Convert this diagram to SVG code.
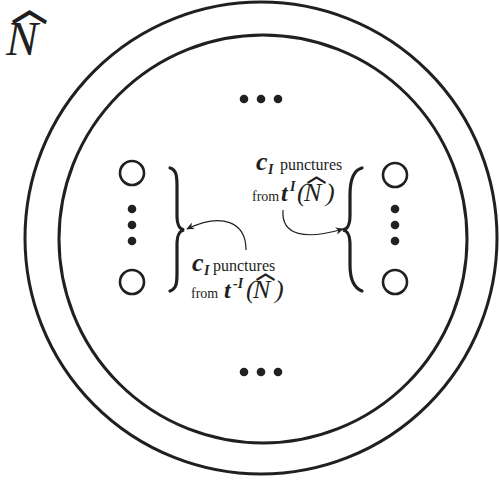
<svg xmlns="http://www.w3.org/2000/svg" width="499" height="484" viewBox="0 0 499 484">
<defs>
<style>
.ring{fill:none;stroke:#231f20;stroke-width:3}
.hole{fill:none;stroke:#231f20;stroke-width:2.6}
.dot{fill:#231f20}
.brace{fill:none;stroke:#231f20;stroke-width:3.2;stroke-linecap:round}
.arr{fill:none;stroke:#231f20;stroke-width:1.2}
.lbl{font-family:"Liberation Serif",serif;fill:#231f20}
.rm{font-style:normal;font-weight:normal}
.bi{font-style:italic;font-weight:bold}
.it{font-style:italic;font-weight:normal}
.hat{font-family:"Noto Sans CJK SC","Noto Sans CJK JP",sans-serif;font-style:normal;font-weight:bold}
</style>
<marker id="ah" viewBox="0 0 10 10" refX="9" refY="5" markerWidth="8" markerHeight="8" orient="auto" markerUnits="userSpaceOnUse">
<path d="M0,0.5 L10,5 L0,9.5 L3,5 Z" fill="#231f20"/>
</marker>
</defs>
<g id="surface">
<circle class="ring" cx="261" cy="238" r="236"/>
<circle class="ring" cx="263" cy="239" r="204"/>
</g>
<g id="label-N">
<text class="lbl"><tspan class="it" x="6" y="55" font-size="48">N</tspan><tspan class="hat" x="11" y="22" font-size="37">︿</tspan></text>
</g>
<g id="top-dots">
<circle class="dot" cx="244" cy="99" r="4.3"/>
<circle class="dot" cx="261" cy="99" r="4.3"/>
<circle class="dot" cx="278" cy="99" r="4.3"/>
</g>
<g id="bottom-dots">
<circle class="dot" cx="244" cy="372" r="4.3"/>
<circle class="dot" cx="261" cy="372" r="4.3"/>
<circle class="dot" cx="278" cy="372" r="4.3"/>
</g>
<g id="left-punctures">
<circle class="hole" cx="132" cy="173" r="12"/>
<circle class="dot" cx="132" cy="209" r="4.3"/>
<circle class="dot" cx="132" cy="225" r="4.3"/>
<circle class="dot" cx="132" cy="241" r="4.3"/>
<circle class="hole" cx="132" cy="282" r="12"/>
<path class="brace" d="M170,168 C178,170 177,180 177,195 L177,215 C177,225 179,229 184,230 C179,231 177,235 177,245 L177,265 C177,280 178,288 170,291"/>
</g>
<g id="right-punctures">
<circle class="hole" cx="395" cy="175" r="12"/>
<circle class="dot" cx="395" cy="209" r="4.3"/>
<circle class="dot" cx="395" cy="225" r="4.3"/>
<circle class="dot" cx="395" cy="241" r="4.3"/>
<circle class="hole" cx="395" cy="282" r="12"/>
<path class="brace" d="M362,168 C354,170 350,180 350,195 L350,215 C350,225 348,229 343,230 C348,231 350,235 350,245 L350,265 C350,280 354,288 362,291"/>
</g>
<g id="label-right">
<text class="lbl"><tspan class="bi" x="256" y="170" font-size="26">c</tspan><tspan class="bi" x="268" y="174" font-size="14">I</tspan><tspan class="rm" x="280" y="170" font-size="16">punctures</tspan></text>
<text class="lbl"><tspan class="rm" x="252" y="201" font-size="14">from</tspan><tspan class="bi" x="281" y="201" font-size="24">t</tspan><tspan class="bi" x="290" y="191" font-size="14">I</tspan><tspan class="it" x="297" y="201" font-size="26">(</tspan><tspan class="it" x="304" y="201" font-size="26">N</tspan><tspan class="hat" x="306.5" y="183" font-size="20">︿</tspan><tspan class="it" x="326" y="201" font-size="26">)</tspan></text>
</g>
<g id="label-left">
<text class="lbl"><tspan class="bi" x="192" y="271" font-size="26">c</tspan><tspan class="bi" x="204" y="275" font-size="14">I</tspan><tspan class="rm" x="213" y="271" font-size="16">punctures</tspan></text>
<text class="lbl"><tspan class="rm" x="191" y="298" font-size="14">from</tspan><tspan class="bi" x="224" y="298" font-size="24">t</tspan><tspan class="bi" x="233" y="288" font-size="14">-I</tspan><tspan class="it" x="246" y="298" font-size="26">(</tspan><tspan class="it" x="253" y="298" font-size="26">N</tspan><tspan class="hat" x="255.5" y="280" font-size="20">︿</tspan><tspan class="it" x="275" y="298" font-size="26">)</tspan></text>
</g>
<g id="connectors">
<path class="arr" d="M246,250 C246,222 222,212 187,229" marker-end="url(#ah)"/>
<path class="arr" d="M283,210 C281,236 306,240 343,229" marker-end="url(#ah)"/>
</g>
</svg>
